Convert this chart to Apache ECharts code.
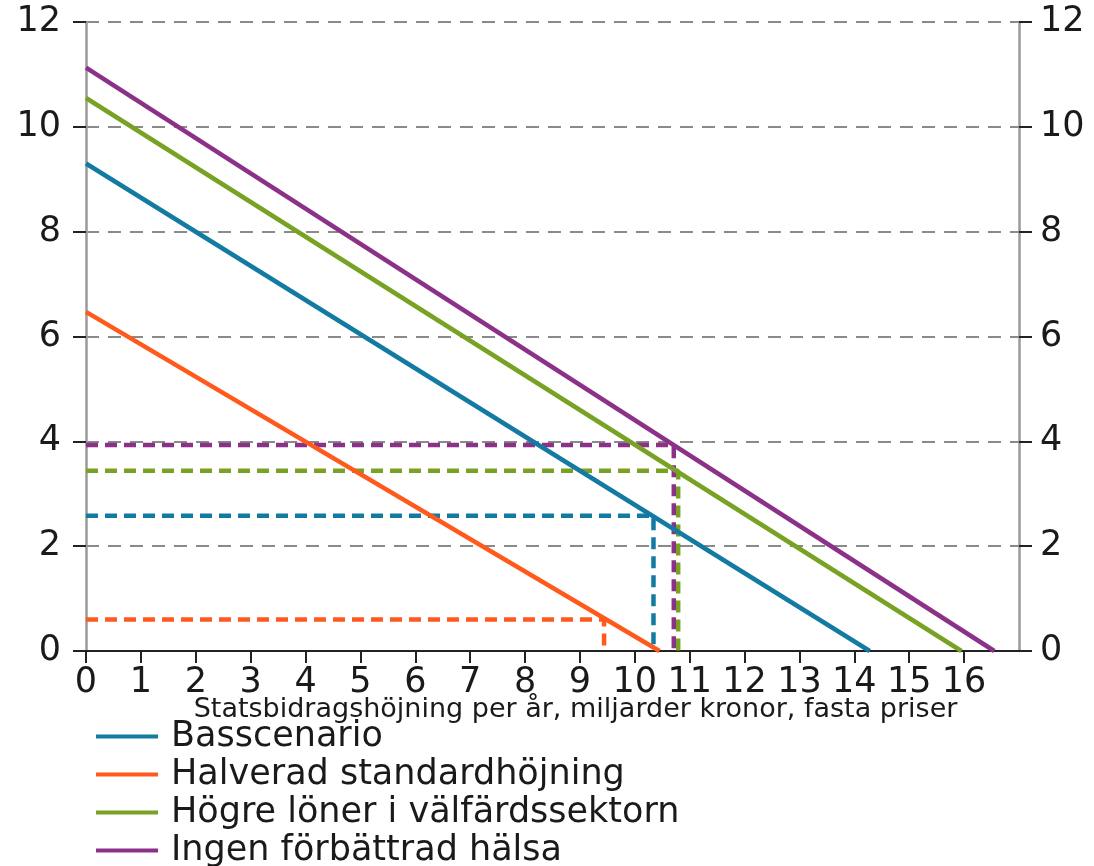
<!DOCTYPE html>
<html><head><meta charset="utf-8">
<script src="https://cdn.jsdelivr.net/npm/echarts@6/dist/echarts.min.js"></script>
<style>html,body{margin:0;padding:0;background:#fff}#c{width:1094px;height:866px}</style>
</head><body><div id="c"></div>
<script>
// Data
const seriesNames = ['Basscenario', 'Halverad standardhöjning', 'Högre löner i välfärdssektorn', 'Ingen förbättrad hälsa'];
const basscenario = [[0, 9.3], [14.28, 0]];
const halverad = [[0, 6.47], [10.45, 0]];
const hogreLoner = [[0, 10.55], [15.95, 0]];
const ingenHalsa = [[0, 11.13], [16.55, 0]];
// Reference points (x, y) marked with dashed drop lines
const refBas = [10.34, 2.58];
const refHalv = [9.44, 0.6];
const refHogre = [10.79, 3.44];
const refIngen = [10.71, 3.93];
const xTicks = [0,1,2,3,4,5,6,7,8,9,10,11,12,13,14,15,16];
const yTicks = [0,2,4,6,8,10,12];
const xTitle = 'Statsbidragshöjning per år, miljarder kronor, fasta priser';

const colors = ['#137ba2', '#ff5a1c', '#78a223', '#8c3188'];
const font = 'DejaVu Sans, Verdana, sans-serif';

function drop(p) { return [[0, p[1]], [p[0], p[1]], [p[0], 0]]; }

const chart = echarts.init(document.getElementById('c'), null, {renderer: 'canvas'});
const mainData = [basscenario, halverad, hogreLoner, ingenHalsa];
const refs = [refBas, refHalv, refHogre, refIngen];

const series = [];
refs.forEach((r, i) => {
  series.push({
    type: 'line', name: '_ref' + i, data: drop(r), symbol: 'none', silent: true, z: 3,
    lineStyle: {color: colors[i], width: 4.5, type: [12, 7]}
  });
});
mainData.forEach((d, i) => {
  series.push({
    type: 'line', name: seriesNames[i], data: d, symbol: 'none', z: 5,
    itemStyle: {color: colors[i]},
    lineStyle: {color: colors[i], width: 4.5}
  });
});

const yAxisBase = {
  type: 'value', min: 0, max: 12, interval: 2,
  axisLine: {show: true, lineStyle: {color: '#9a9a9a', width: 2.5}},
  axisTick: {show: true, inside: false, length: 13, lineStyle: {color: '#222', width: 2}},
  axisLabel: {color: '#1a1a1a', fontSize: 35, fontFamily: font, margin: 25,
    customValues: yTicks},
  splitLine: {show: false}
};

chart.setOption({
  animation: false,
  backgroundColor: '#fff',
  color: colors,
  grid: {left: 86, right: 75, top: 22, bottom: 215, containLabel: false},
  legend: {
    data: seriesNames,
    orient: 'vertical', left: 96, top: 719, height: 300,
    icon: 'rect', itemWidth: 62, itemHeight: 4, itemGap: 3,
    textStyle: {fontSize: 35, fontFamily: font, color: '#1a1a1a', lineHeight: 33, padding: [0, 0, 0, 8]},
    padding: 0
  },
  xAxis: {
    type: 'value', min: 0, max: 17, interval: 1,
    name: xTitle, nameLocation: 'middle', nameGap: 45, nameMoveOverlap: false,
    nameTextStyle: {fontSize: 27, fontFamily: font, color: '#1a1a1a', padding: [0, 0, 0, 46]},
    axisLine: {show: true, onZero: false, lineStyle: {color: '#222', width: 2}},
    axisTick: {show: true, length: 12, lineStyle: {color: '#222', width: 2}, customValues: xTicks},
    axisLabel: {color: '#1a1a1a', fontSize: 35, fontFamily: font, margin: 14, customValues: xTicks},
    splitLine: {show: false}
  },
  yAxis: [
    Object.assign({}, yAxisBase, {position: 'left',
      splitLine: {show: true, lineStyle: {color: '#8a8a8a', width: 2, type: [13, 9]}}}),
    Object.assign({}, yAxisBase, {position: 'right', axisLabel: Object.assign({}, yAxisBase.axisLabel, {margin: 21})})
  ],
  series: series
});
</script></body></html>
